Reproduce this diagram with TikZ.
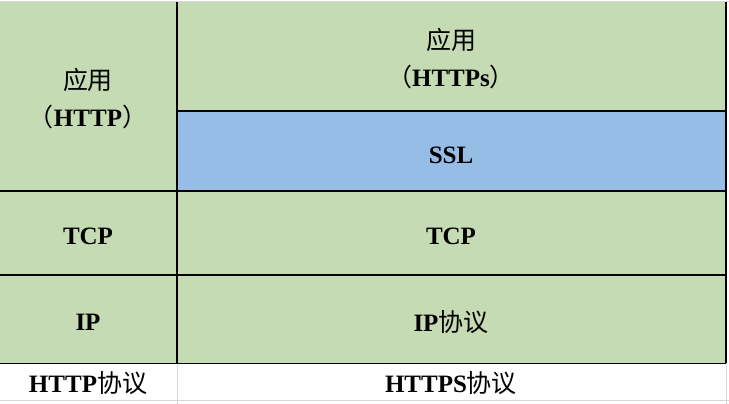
\documentclass[tikz,border=0pt]{standalone}
\usepackage{fontspec}
\setmainfont{Liberation Serif}
\newfontfamily\cjk{Noto Sans CJK SC}
\definecolor{cellgreen}{RGB}{197,219,179}
\definecolor{cellblue}{RGB}{149,189,230}
\definecolor{gridgray}{RGB}{215,215,215}

\begin{document}
\begin{tikzpicture}[x=1pt, y=-1pt]
  \tikzset{
    rule/.style={black, line width=1.6pt},
    label/.style={font=\fontsize{25}{31}\selectfont\bfseries, align=center, inner sep=0pt},
  }
  \useasboundingbox (0,0) rectangle (729,404);
  % cell fills
  \fill[cellgreen] (0,2) rectangle (726,363);
  \fill[cellblue] (177,111) rectangle (726,191);
  % light grid of the sheet
  \draw[gridgray, line width=1pt] (0,2) -- (729,2);
  \draw[gridgray, line width=1pt] (0,400) -- (729,400);
  \draw[gridgray, line width=1pt] (177,363) -- (177,404);
  \draw[gridgray, line width=1pt] (726,363) -- (726,404);
  % table rules
  \draw[rule] (177,2) -- (177,363);
  \draw[rule] (726,2) -- (726,363);
  \draw[rule] (177,111) -- (726,111);
  \draw[rule] (0,191) -- (726,191);
  \draw[rule] (0,275) -- (726,275);
  \draw[black, line width=0.8pt] (0,363) -- (726,363);
  % labels
  \node[label] (apphttp) at (88,99) {{\cjk\mdseries 应用}\\[6pt]{\cjk\mdseries （}HTTP{\cjk\mdseries ）}};
  \node[label] (apphttps) at (451,59) {{\cjk\mdseries 应用}\\[6pt]{\cjk\mdseries （}HTTPs{\cjk\mdseries ）}};
  \node[label] (ssl) at (451,155) {SSL};
  \node[label] (tcpl) at (88,236) {TCP};
  \node[label] (tcpr) at (451,236) {TCP};
  \node[label] (ipl) at (88,322) {IP};
  \node[label] (ipr) at (451,322) {IP{\cjk\mdseries 协议}};
  \node[label] (http) at (88,383) {HTTP{\cjk\mdseries 协议}};
  \node[label] (https) at (451,383) {HTTPS{\cjk\mdseries 协议}};
\end{tikzpicture}
\end{document}
